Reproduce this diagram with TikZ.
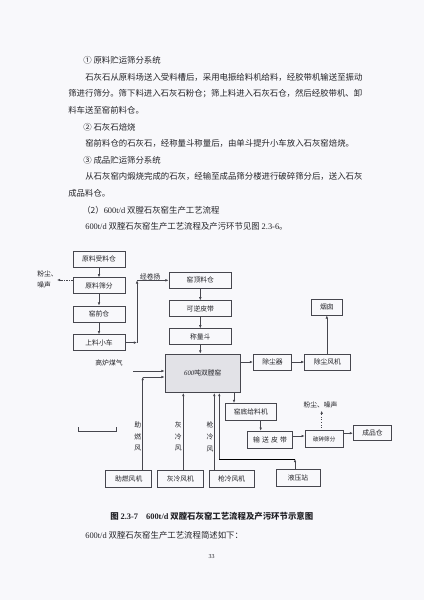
\documentclass[tikz,border=0pt]{standalone}
\usepackage{fontspec}
\setmainfont{Liberation Serif}
\newfontfamily\cjk{Noto Sans CJK SC}
\usetikzlibrary{positioning,arrows.meta}

\definecolor{paper}{RGB}{248,248,251}
\definecolor{ink}{RGB}{35,35,40}
\definecolor{edge}{RGB}{70,70,78}
\definecolor{kilnfill}{RGB}{226,226,231}

\newcommand{\lat}[1]{{\rmfamily #1}}

\begin{document}
\begin{tikzpicture}[
x=1pt, y=-1pt,
line width=0.6pt,
>={Latex[length=3.2pt,width=2.6pt]},
bodytext/.style={anchor=west, inner sep=0pt, text=ink, font=\cjk\fontsize{8.4}{10}\selectfont},
box/.style={draw=edge, line width=0.7pt, minimum height=16pt, inner sep=0pt, text=ink, font=\cjk\fontsize{6.8}{8}\selectfont},
tag/.style={inner sep=0pt, text=ink, font=\cjk\fontsize{6.8}{11}\selectfont},
vtext/.style={inner sep=0pt, align=center, text=ink, font=\cjk\fontsize{6.8}{11.7}\selectfont},
arr/.style={->, draw=edge}
]

% page
\fill[paper] (0,0) rectangle (424,600);
\useasboundingbox (0,0) rectangle (424,600);

% text above the figure
\node (h1) [bodytext] at (83,60.5) {① 原料贮运筛分系统};
\node (p1a) [bodytext] at (85,77.1) {石灰石从原料场送入受料槽后，采用电振给料机给料，经胶带机输送至振动};
\node (p1b) [bodytext] at (68,93.7) {筛进行筛分。筛下料进入石灰石粉仓；筛上料进入石灰石仓，然后经胶带机、卸};
\node (p1c) [bodytext] at (68,110.3) {料车送至窑前料仓。};
\node (h2) [bodytext] at (83,126.9) {② 石灰石焙烧};
\node (p2) [bodytext] at (85,143.5) {窑前料仓的石灰石，经称量斗称量后，由单斗提升小车放入石灰窑焙烧。};
\node (h3) [bodytext] at (83,160.1) {③ 成品贮运筛分系统};
\node (p3a) [bodytext] at (85,176.7) {从石灰窑内煅烧完成的石灰，经输至成品筛分楼进行破碎筛分后，送入石灰};
\node (p3b) [bodytext] at (68,193.3) {成品料仓。};
\node (h4) [bodytext] at (82,209.9) {（2）\lat{600t/d} 双膛石灰窑生产工艺流程};
\node (p4) [bodytext] at (85,226.5) {\lat{600t/d} 双膛石灰窑生产工艺流程及产污环节见图 \lat{2.3-6}。};

% raw material line
\node (raw) [box, minimum width=52pt] at (99,259) {原料受料仓};
\node (screen) [box, minimum width=52pt, below=10pt of raw] {原料筛分};
\node (front) [box, minimum width=52pt, below=11.5pt of screen] {窑前仓};
\node (cart) [box, minimum width=52pt, below=12pt of front] {上料小车};

\node (topbin) [box, minimum width=62.7pt] at (200.3,280.3) {窑顶料仓};
\node (belt) [box, minimum width=62.7pt, below=11.7pt of topbin] {可逆皮带};
\node (scale) [box, minimum width=62.7pt, below=11.3pt of belt] {称量斗};

% kiln
\node (kiln) [box, fill=kilnfill, minimum width=75.7pt, minimum height=38.7pt] at (202.8,373.3) {{\rmfamily\itshape 600}吨双膛窑};

% dust removal
\node (dust) [box, minimum width=38.4pt] at (272.5,362) {除尘器};
\node (dfan) [box, minimum width=45.3pt, right=12.3pt of dust] {除尘风机};
\node (stack) [box, minimum width=31.7pt] at (326.8,307) {烟囱};

% product line
\node (feeder) [box, minimum width=51.7pt, minimum height=16.7pt] at (250.8,411.7) {窑底给料机};
\node (conv) [box, minimum width=44.6pt, minimum height=17.3pt] at (270,439.7) {输\hspace{2.2pt}送\hspace{2.2pt}皮\hspace{2.2pt}带};
\node (crush) [box, minimum width=38.3pt, minimum height=17pt, font=\cjk\fontsize{5.6}{7}\selectfont] at (324.2,439.2) {破碎筛分};
\node (product) [box, minimum width=38.4pt, minimum height=15pt] at (372.5,433.2) {成品仓};
\node (hyd) [box, minimum width=44pt, minimum height=16.7pt] at (298,477.7) {液压站};

% fans
\node (fanA) [box, minimum width=46pt, minimum height=16.6pt] at (128.7,479) {助燃风机};
\node (fanB) [box, minimum width=46pt, minimum height=16.6pt, right=5pt of fanA] {灰冷风机};
\node (fanC) [box, minimum width=45pt, minimum height=16.6pt, right=5pt of fanB] {枪冷风机};

% free labels
\node (dustL) [tag, align=left, anchor=west] at (37,279) {粉尘、\\噪声};
\node (gas) [tag] at (109,363) {高炉煤气};
\node (dustR) [tag] at (320.5,404.5) {粉尘、噪声};
\node (windA) [vtext] at (137.8,436.7) {助\\燃\\风};
\node (windB) [vtext] at (178.3,436.7) {灰\\冷\\风};
\node (windC) [vtext] at (210,436.7) {枪\\冷\\风};

\coordinate (dustend) at (57,280);
\coordinate (lift) at ([xshift=11.7pt]cart.east);
\coordinate (gasin) at (133,371);
\coordinate (airA) at (142.7,377);
\coordinate (ashx) at (183.3,420);
\coordinate (gunx) at (214.3,420);
\coordinate (hydbend) at (219.3,459);
\coordinate (hydx) at (295,459);
\coordinate (outx) at (234,400);
\coordinate (convx) at (260.7,425);
\coordinate (crushy) at (300,436);
\coordinate (dusttip) at (321.7,410.7);

\draw[arr] (raw) -- (screen);
\draw[arr] (screen) -- (front);
\draw[arr] (front) -- (cart);
\draw[arr, dash pattern=on 1.5pt off 1pt] (screen.west |- dustend) -- (dustend);
\draw[arr] (cart.east) -- (lift);
\draw[arr] (lift) -- (lift |- topbin.west);
\draw[arr] (lift |- topbin.west) -- node[tag, anchor=south, pos=0.42, inner sep=0.4pt] {经卷扬} (topbin.west);

\draw[arr] (topbin) -- (belt);
\draw[arr] (belt) -- (scale);
\draw[arr] (scale.south) -- (scale.south |- kiln.north);

\draw[arr] (kiln.east |- dust.west) -- (dust.west);
\draw[arr] (dust) -- (dfan);
\draw[arr] (dfan.north -| stack.south) -- (stack.south);

\draw[arr] (gasin) -- (gasin -| kiln.west);
\draw[arr] (fanA.north -| airA) -- (airA);
\draw[arr] (airA) -- (airA -| kiln.west);
\draw[arr] (fanB.north -| ashx) -- (kiln.south -| ashx);
\draw[arr] (fanC.north -| gunx) -- (kiln.south -| gunx);
\draw[arr] (hyd.north -| hydx) -- (hydx);
\draw (hydx) -- (hydbend);
\draw[arr] (hydbend) -- (kiln.south -| hydbend);

\draw[arr] (kiln.south -| outx) -- (feeder.north -| outx);
\draw[arr] (feeder.south -| convx) -- (conv.north -| convx);
\draw[arr] (conv.east |- crushy) -- (crush.west |- crushy);
\draw[arr] (crush.east |- product.west) -- (product.west);
\draw[arr, dotted] (crush.north -| dusttip) -- (dusttip);

% small bracket mark
\draw[edge, line width=0.5pt] (78.3,427) -- (78.3,431.7) -- (116.7,431.7) -- (116.7,427);

% caption and text below
\node (cap) [anchor=west, inner sep=0pt, text=ink, font=\cjk\bfseries\fontsize{8.4}{10}\selectfont] at (110,516.7) {图 \lat{2.3-7}\hspace{8pt}\lat{600t/d} 双膛石灰窑工艺流程及产污环节示意图};
\node (p5) [bodytext] at (85,535) {\lat{600t/d} 双膛石灰窑生产工艺流程简述如下：};
\node (pnum) [inner sep=0pt, text=ink, font=\rmfamily\fontsize{6}{7}\selectfont] at (211.7,556.7) {33};

\end{tikzpicture}
\end{document}
